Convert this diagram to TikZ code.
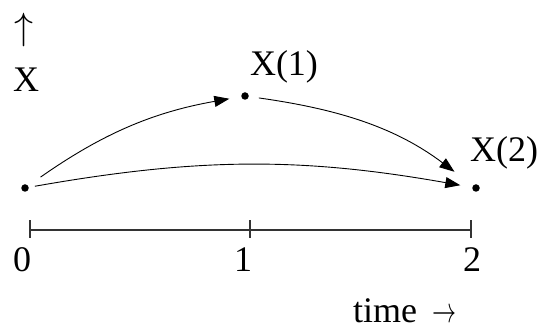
\documentclass[tikz,border=0pt]{standalone}
\usepackage{fontspec}
\setmainfont{Liberation Serif}
\usetikzlibrary{arrows.meta}
\newcommand{\bigup}{\scalebox{3.8}{\fontsize{10}{12}\selectfont$\uparrow$}}
\newcommand{\bigright}{\scalebox{2.4}[3.6]{\fontsize{10}{12}\selectfont$\rightarrow$}}
\begin{document}
\begin{tikzpicture}[x=1pt,y=1pt,
  dot/.style={circle,fill=black,inner sep=0pt,minimum size=7.5pt},
  lbl/.style={inner sep=0pt,font=\fontsize{36}{43}\selectfont},
  arr/.style={line width=0.9pt,-{Triangle[length=15pt,width=11pt]}},
  axis/.style={line width=1.3pt,draw=black!80}]
\useasboundingbox (0,0) rectangle (540,328);
% dots
\node[dot] (d0) at (25,140) {};
\node[dot] (d1) at (245,232) {};
\node[dot] (d2) at (476,140) {};
% arrows
\draw[arr,shorten <=15pt,shorten >=12pt] (d0) to[out=35,in=190] (d1);
\draw[arr,shorten <=10pt,shorten >=23pt] (d1) to[out=-8,in=143] (d2);
\draw[arr,shorten <=6pt,shorten >=12pt] (d0) to[out=10,in=170] (d2);
% axis
\coordinate (t0) at (30,98);
\coordinate (t1) at (250,98);
\coordinate (t2) at (471,98);
\draw[axis] (t0) -- (t2);
\foreach \t in {t0,t1,t2} \draw[axis] ([yshift=-8pt]\t) -- ([yshift=10pt]\t);
% labels
\node[lbl] (up) at (24,298) {\bigup};
\node[lbl,anchor=base] (xl) at (26,236) {X};
\node[lbl,anchor=base] (x1) at (284,252) {X(1)};
\node[lbl,anchor=base] (x2) at (504,166) {X(2)};
\node[lbl,anchor=base] (l0) at (22,56) {0};
\node[lbl,anchor=base] (l1) at (243,56) {1};
\node[lbl,anchor=base] (l2) at (472,56) {2};
\node[lbl,anchor=base west,text depth=0pt] (tm) at (353,5) {time\hspace{15pt}\bigright};
\end{tikzpicture}
\end{document}
